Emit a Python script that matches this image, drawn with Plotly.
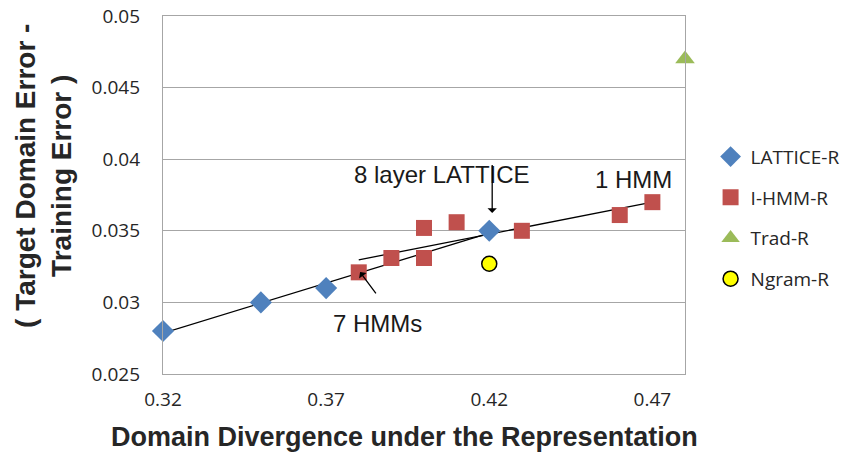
import numpy as np
import plotly.graph_objects as go

# data
lattice_x = [0.32, 0.35, 0.37, 0.42]
lattice_y = [0.028, 0.030, 0.031, 0.035]

ihmm_x = [0.38, 0.39, 0.40, 0.40, 0.41, 0.43, 0.46, 0.47]
ihmm_y = [0.0321, 0.0331, 0.0331, 0.0352, 0.0356, 0.0350, 0.0361, 0.0370]

trad_x = [0.48]
trad_y = [0.047]

ngram_x = [0.42]
ngram_y = [0.0327]

x_ticks = [0.32, 0.37, 0.42, 0.47]
x_tick_text = ['0.32', '0.37', '0.42', '0.47']
y_ticks = [0.025, 0.03, 0.035, 0.04, 0.045, 0.05]
y_tick_text = ['0.025', '0.03', '0.035', '0.04', '0.045', '0.05']

TICK_FONT = dict(family='Open Sans', size=19, color='#262626')
TEXT_FONT = dict(family='Liberation Sans, Arial', size=24, color='#1a1a1a')
TITLE_FONT = dict(family='Liberation Sans, Arial', size=27, color='#262626')


def trend(xs, ys):
    # linear trendline over the data range, like Excel's
    slope, icpt = np.polyfit(xs, ys, 1)
    ends = [min(xs), max(xs)]
    return ends, [slope * v + icpt for v in ends]


fig = go.Figure()

# Trendlines
for xs, ys in [(lattice_x, lattice_y), (ihmm_x, ihmm_y)]:
    tx, ty = trend(xs, ys)
    fig.add_trace(go.Scatter(
        x=tx, y=ty, mode='lines',
        line=dict(color='black', width=1.3),
        showlegend=False, hoverinfo='skip'
    ))

fig.add_trace(go.Scatter(
    x=lattice_x, y=lattice_y, mode='markers', name='LATTICE-R',
    marker=dict(symbol='diamond', color='#4F81BD', size=17),
    legendgroup='a', cliponaxis=False
))
fig.add_trace(go.Scatter(
    x=ihmm_x, y=ihmm_y, mode='markers', name='I-HMM-R',
    marker=dict(symbol='square', color='#C0504D', size=16),
    legendgroup='b'
))
fig.add_trace(go.Scatter(
    x=trad_x, y=trad_y, mode='markers', name='Trad-R',
    marker=dict(symbol='triangle-up', color='#9BBB59', size=17),
    legendgroup='c', cliponaxis=False
))
fig.add_trace(go.Scatter(
    x=ngram_x, y=ngram_y, mode='markers', name='Ngram-R',
    marker=dict(symbol='circle', color='#FFFF00', size=15,
                line=dict(color='black', width=1.5)),
    legendgroup='d'
))

annotations = [
    dict(x=0.4056, y=0.0389, text='8 layer LATTICE', showarrow=False),
    dict(x=0.4642, y=0.0386, text='1 HMM', showarrow=False),
    dict(x=0.3856, y=0.0285, text='7 HMMs', showarrow=False),
    dict(x=0.3151, y=0.0268, text='20 layer LATTICE', showarrow=False),
    # arrows
    dict(x=0.4209, y=0.03624, ax=0.4209, ay=0.0397, text='',
         axref='x', ayref='y', showarrow=True, arrowhead=1,
         arrowsize=1.2, arrowwidth=1.3, arrowcolor='black'),
    dict(x=0.3804, y=0.03212, ax=0.3856, ay=0.03052, text='',
         axref='x', ayref='y', showarrow=True, arrowhead=1,
         arrowsize=1.2, arrowwidth=1.3, arrowcolor='black'),
]
for a in annotations:
    a.update(xref='x', yref='y', font=TEXT_FONT,
             xanchor='center', yanchor='middle')
    fig.add_annotation(**a)

# axis titles
fig.add_annotation(
    x=0.4617, y=-0.176, xref='paper', yref='paper', showarrow=False,
    xanchor='center', yanchor='middle',
    text='<b>Domain Divergence under the Representation</b>', font=TITLE_FONT
)
fig.add_annotation(
    x=-0.23, y=0.553, xref='paper', yref='paper', showarrow=False,
    xanchor='center', yanchor='middle', textangle=-90,
    text='<b>( Target Domain Error -<br>Training Error )</b>',
    font=dict(TITLE_FONT, size=28)
)

fig.update_layout(
    width=845, height=453,
    margin=dict(l=163, r=160, t=16, b=79, autoexpand=False),
    paper_bgcolor='white', plot_bgcolor='white',
    showlegend=True,
    legend=dict(
        x=1.049, y=0.66, xanchor='left', yanchor='top',
        font=dict(family='Open Sans', size=19, color='#262626'),
        tracegroupgap=13, itemwidth=30, bgcolor='rgba(0,0,0,0)'
    ),
    xaxis=dict(
        range=[0.32, 0.48], tickvals=x_ticks, ticktext=x_tick_text,
        showgrid=False, zeroline=False, automargin=False,
        showline=True, mirror=True, linecolor='#A6A6A6', linewidth=1.3,
        ticks='', tickfont=TICK_FONT, ticklabelstandoff=8
    ),
    yaxis=dict(
        range=[0.025, 0.05], tickvals=y_ticks, ticktext=y_tick_text,
        showgrid=True, gridcolor='#A6A6A6', gridwidth=1.3, zeroline=False,
        automargin=False, ticklabeloverflow='allow',
        showline=True, mirror=True, linecolor='#A6A6A6', linewidth=1.3,
        ticks='', tickfont=TICK_FONT, ticklabelstandoff=18
    ),
)

# drop the default 8px body margin so the figure fills the window
fig.write_html("out.html", config={'displayModeBar': False},
               post_script="document.body.style.margin='0';")
